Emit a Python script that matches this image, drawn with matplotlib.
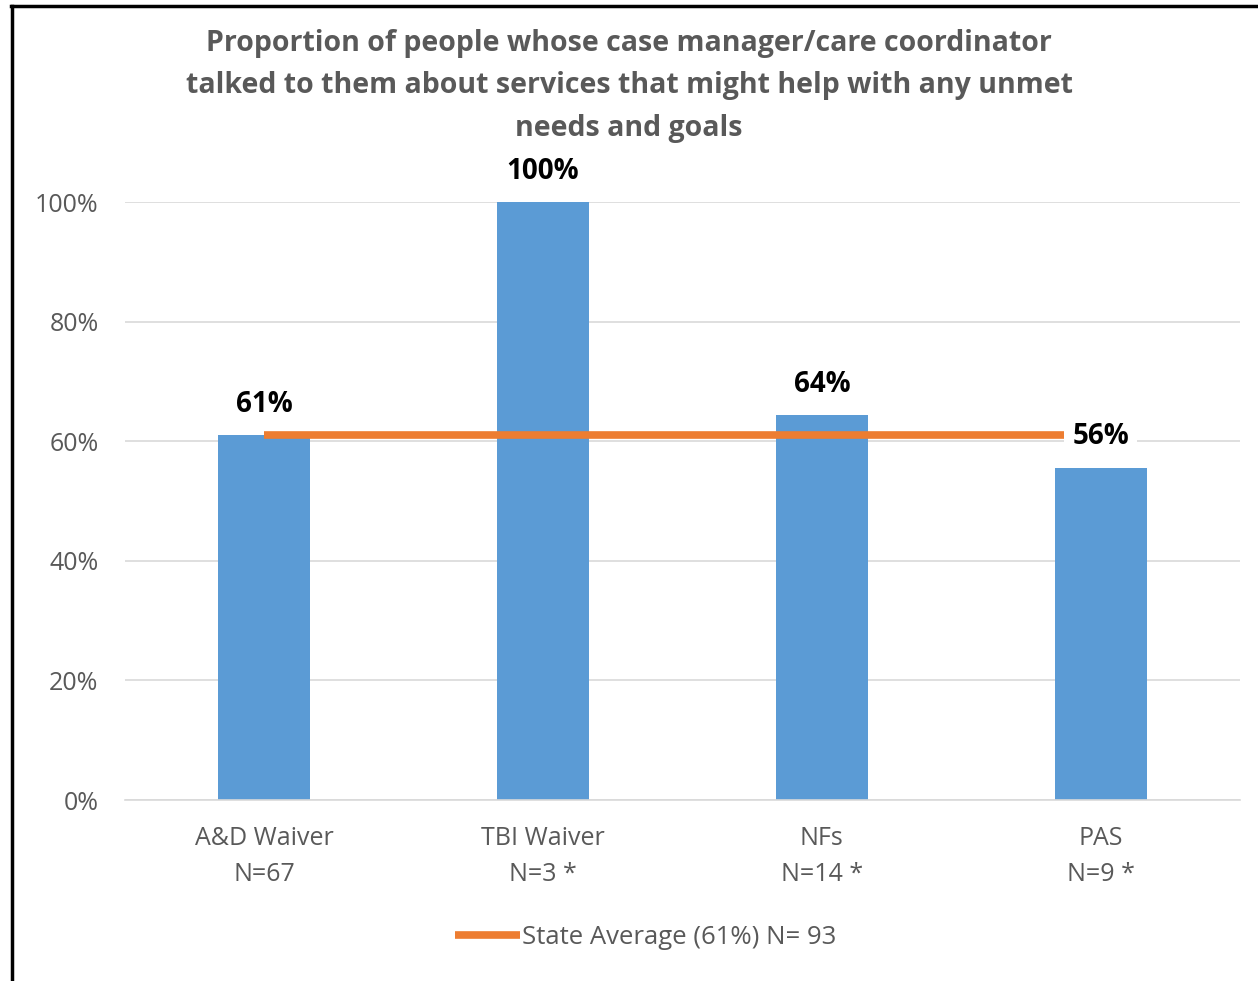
import matplotlib.pyplot as plt
from matplotlib.lines import Line2D
from matplotlib.ticker import PercentFormatter

plt.rcParams["font.family"] = ["Open Sans", "DejaVu Sans"]

categories = ["A&D Waiver\nN=67", "TBI Waiver\nN=3 *", "NFs\nN=14 *", "PAS\nN=9 *"]
proportions = [0.61, 1.00, 0.643, 0.556]
state_average = [0.61, 0.61, 0.61, 0.61]
legend_label = "State Average (61%) N= 93"
title = ("Proportion of people whose case manager/care coordinator\n"
         "talked to them about services that might help with any unmet\n"
         "needs and goals")

BAR_COLOR = "#5B9BD5"
LINE_COLOR = "#ED7D31"
GRAY = "#595959"

fig = plt.figure(figsize=(12.58, 9.81), dpi=100)
ax = fig.add_axes([125 / 1258, 1 - 800 / 981, 1115 / 1258, 598 / 981])

x = list(range(len(categories)))
ax.bar(x, proportions, width=0.33, color=BAR_COLOR, zorder=2)
line, = ax.plot(x, state_average, color=LINE_COLOR, linewidth=5.5,
                solid_capstyle="butt", zorder=3, label=legend_label)

for xi, v in zip(x, proportions):
    ax.annotate(f"{round(v * 100):.0f}%", (xi, v), xytext=(0, 22),
                textcoords="offset points", ha="center", va="center",
                fontsize=20, fontweight="bold", color="black", zorder=4,
                bbox=dict(boxstyle="square,pad=0.3", fc="white", ec="none"))

ax.set_xlim(-0.5, len(categories) - 0.5)
ax.set_ylim(0, 1)
ax.set_yticks([0, 0.2, 0.4, 0.6, 0.8, 1.0])
ax.yaxis.set_major_formatter(PercentFormatter(1.0, decimals=0))
ax.set_xticks(x)
ax.set_xticklabels(categories, linespacing=1.55)
ax.tick_params(axis="both", length=0, colors=GRAY, labelsize=18)
ax.tick_params(axis="y", pad=19)
ax.tick_params(axis="x", pad=19)
ax.grid(axis="y", color="#D9D9D9", linewidth=1.2, zorder=0)
for side in ["top", "right", "left"]:
    ax.spines[side].set_visible(False)
ax.spines["bottom"].set_color("#D9D9D9")
ax.spines["bottom"].set_linewidth(1.2)

fig.text(0.5, 1 - 86 / 981, title, ha="center", va="center", fontsize=20.5,
         fontweight="bold", color=GRAY, linespacing=1.62)

fig.legend(handles=[line], loc="center", bbox_to_anchor=(646 / 1258, 1 - 937 / 981),
           frameon=False, fontsize=18.5, handlelength=2.5, handletextpad=0.1,
           labelcolor=GRAY)

# black frame on the top and left edges
fig.add_artist(Line2D([11 / 1258, 1], [1 - 6 / 981, 1 - 6 / 981],
                      color="black", linewidth=2.5, transform=fig.transFigure))
fig.add_artist(Line2D([12 / 1258, 12 / 1258], [0, 1 - 6 / 981],
                      color="black", linewidth=2.5, transform=fig.transFigure))

fig.savefig("out.png", dpi=100, facecolor="white")
